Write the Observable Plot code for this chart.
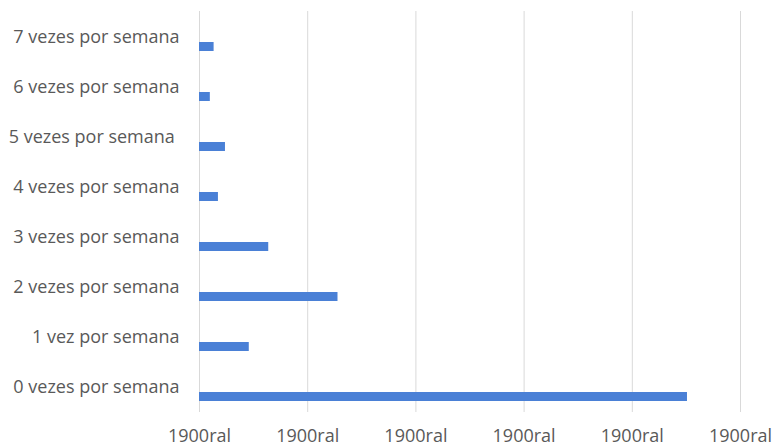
<!DOCTYPE html>
<html>
<head>
<meta charset="utf-8">
<script src="https://cdn.jsdelivr.net/npm/d3@7"></script>
<script src="https://cdn.jsdelivr.net/npm/@observablehq/plot@0.6"></script>
<style>
  html, body { margin: 0; padding: 0; background: #ffffff; }
</style>
</head>
<body>
<div id="chart"></div>
<script>
// Weekly frequency categories (top to bottom as shown)
const categories = [
  "7 vezes por semana",
  "6 vezes por semana",
  "5 vezes por semana\u00a0",
  "4 vezes por semana",
  "3 vezes por semana",
  "2 vezes por semana",
  "1 vez por semana",
  "0 vezes por semana"
];
const values = [13.5, 10, 24, 17.5, 64, 128, 46, 451];

// Axis ticks and their labels
const tickValues = [0, 100, 200, 300, 400, 500];
const tickLabels = ["1900ral", "1900ral", "1900ral", "1900ral", "1900ral", "1900ral"];

const data = categories.map((c, i) => ({category: c, value: values[i]}));

const chart = Plot.plot({
  width: 775,
  height: 448,
  marginLeft: 199,
  marginRight: 35,
  marginTop: 11,
  marginBottom: 36,
  style: {
    fontFamily: "'Open Sans', sans-serif",
    fontSize: "18px",
    color: "#595959",
    background: "#ffffff"
  },
  x: {domain: [0, 500]},
  y: {domain: categories, padding: 0},
  marks: [
    Plot.gridX(tickValues, {stroke: "#d9d9d9", strokeOpacity: 1, strokeWidth: 1}),
    Plot.barX(data, {
      x: "value",
      y: "category",
      fill: "#4a80d6",
      insetTop: 30,
      insetBottom: 11
    }),
    Plot.axisX(tickValues, {
      tickSize: 0,
      tickPadding: 17,
      tickFormat: (d, i) => tickLabels[i],
      label: null
    }),
    Plot.axisY({
      tickSize: 0,
      tickPadding: 20,
      label: null
    })
  ]
});

document.getElementById("chart").appendChild(chart);
</script>
</body>
</html>
